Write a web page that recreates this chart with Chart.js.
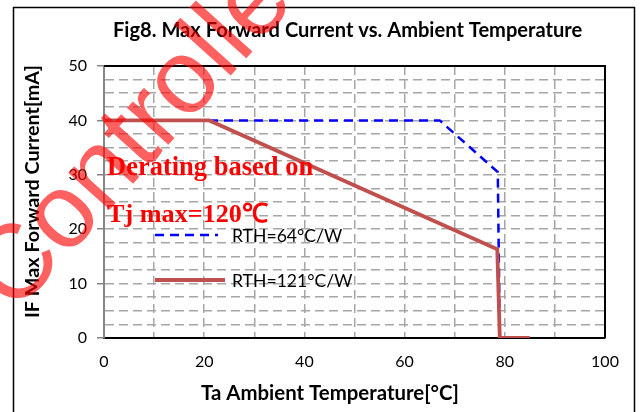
<!DOCTYPE html>
<html lang="en">
<head>
<meta charset="UTF-8">
<title>Fig8. Max Forward Current vs. Ambient Temperature</title>
<script src="https://cdn.jsdelivr.net/npm/chart.js"></script>
<style>
  html, body { margin: 0; padding: 0; background: #fff; }
  #wrap { width: 640px; height: 412px; }
</style>
</head>
<body>
<div id="wrap"><canvas id="myChart"></canvas></div>
<script>
// values
const tempRth64 = [0, 67, 78.6, 79, 85];
const currentRth64 = [40, 40, 30.5, 0, 0];
const tempRth121 = [0, 21, 78.5, 79, 85];
const currentRth121 = [40, 40, 16.3, 0, 0];
const seriesLabels = ['RTH=64°C/W', 'RTH=121°C/W'];
const xTickLabels = [0, 20, 40, 60, 80, 100];
const yTickLabels = [0, 10, 20, 30, 40, 50];
const chartTitle = 'Fig8. Max Forward Current vs. Ambient Temperature';
const xTitle = 'Ta Ambient Temperature[°C]';
const yTitle = 'IF Max Forward Current[mA]';
const notes = ['Derating based on', 'Tj max=120℃'];
const watermark = 'Controller';

const sansFamily = 'Lato, "Open Sans", sans-serif';
const serifFamily = '"Liberation Serif", "Times New Roman", serif';

function toPoints(xs, ys) {
    return xs.map((x, i) => ({ x: x, y: ys[i] }));
}

// pick a font size so the text spans the given width
function fitFont(ctx, text, weight, family, width) {
    ctx.font = weight + ' 100px ' + family;
    const size = 100 * width / ctx.measureText(text).width;
    return weight + ' ' + size.toFixed(1) + 'px ' + family;
}

const decor = {
    id: 'decor',
    beforeDraw(chart) {
        const ctx = chart.ctx;
        ctx.save();
        ctx.fillStyle = '#fff';
        ctx.fillRect(0, 0, chart.width, chart.height);
        ctx.strokeStyle = '#000';
        ctx.lineWidth = 1.5;
        ctx.strokeRect(13.5, 7.5, 621, 420);
        ctx.restore();
    },
    beforeDatasetsDraw(chart) {
        const { ctx, chartArea: a } = chart;
        ctx.save();
        ctx.strokeStyle = '#000';
        ctx.lineWidth = 2;
        ctx.beginPath();
        ctx.moveTo(a.left, a.top);
        ctx.lineTo(a.right, a.top);
        ctx.lineTo(a.right, a.bottom);
        ctx.stroke();
        ctx.restore();
    },
    afterDatasetsDraw(chart) {
        const ctx = chart.ctx;
        ctx.save();
        ctx.fillStyle = '#000';
        ctx.textBaseline = 'alphabetic';
        ctx.textAlign = 'left';

        ctx.font = fitFont(ctx, chartTitle, 'bold', sansFamily, 470);
        ctx.fillText(chartTitle, 113, 37);

        ctx.font = fitFont(ctx, xTitle, 'bold', sansFamily, 258);
        ctx.fillText(xTitle, 201, 400);

        ctx.save();
        ctx.translate(39, 318);
        ctx.rotate(-Math.PI / 2);
        ctx.font = fitFont(ctx, yTitle, 'bold', sansFamily, 253);
        ctx.fillText(yTitle, 0, 0);
        ctx.restore();

        // derating notes
        ctx.fillStyle = '#ff0000';
        ctx.font = fitFont(ctx, notes[0], 'bold', serifFamily, 206);
        ctx.fillText(notes[0], 107, 175);
        ctx.font = fitFont(ctx, notes[1], 'bold', serifFamily, 161);
        ctx.fillText(notes[1], 107, 222);

        // legend inside the plot
        const rows = [235, 280];
        const ends = [218, 225];
        const legendFont = fitFont(ctx, seriesLabels[0], 'normal', sansFamily, 110);
        chart.data.datasets.forEach((ds, i) => {
            ctx.save();
            ctx.strokeStyle = ds.borderColor;
            ctx.lineWidth = ds.borderWidth;
            ctx.setLineDash(ds.borderDash || []);
            ctx.beginPath();
            ctx.moveTo(155, rows[i]);
            ctx.lineTo(ends[i], rows[i]);
            ctx.stroke();
            ctx.restore();
            ctx.fillStyle = '#000';
            ctx.font = legendFont;
            ctx.textBaseline = 'middle';
            ctx.fillText(ds.label, 232, rows[i] + 1);
        });
        ctx.restore();
    },
    afterDraw(chart) {
        // watermark laid over the figure
        const ctx = chart.ctx;
        ctx.save();
        ctx.translate(15, 315);
        ctx.rotate(-48 * Math.PI / 180);
        ctx.font = '105px "Liberation Sans", Arial, sans-serif';
        ctx.fillStyle = 'rgba(255, 0, 0, 0.62)';
        ctx.textBaseline = 'alphabetic';
        ctx.fillText(watermark, 0, 0);
        ctx.restore();
    }
};

const ctx = document.getElementById('myChart').getContext('2d');
const chart = new Chart(ctx, {
    type: 'line',
    data: {
        datasets: [{
            label: seriesLabels[0],
            data: toPoints(tempRth64, currentRth64),
            borderColor: '#0000ff',
            borderWidth: 2.5,
            borderDash: [9, 6],
            pointRadius: 0,
            fill: false,
            order: 2
        },
        {
            label: seriesLabels[1],
            data: toPoints(tempRth121, currentRth121),
            borderColor: '#c0504d',
            borderWidth: 3.8,
            pointRadius: 0,
            fill: false,
            order: 1
        }]
    },
    options: {
        animation: false,
        responsive: true,
        maintainAspectRatio: false,
        layout: { padding: { top: 66, right: 35, left: 0, bottom: 0 } },
        plugins: {
            legend: { display: false },
            title: { display: false },
            tooltip: { enabled: false }
        },
        scales: {
            x: {
                type: 'linear',
                min: 0,
                max: 100,
                afterFit: (scale) => { scale.height = 74; },
                border: { display: true, color: '#000', width: 2, dash: [9, 5] },
                grid: {
                    color: '#a6a6a6',
                    lineWidth: 1.5,
                    tickLength: 6,
                    tickColor: 'transparent'
                },
                ticks: {
                    stepSize: 10,
                    autoSkip: false,
                    maxRotation: 0,
                    padding: 8,
                    color: '#000',
                    font: { family: sansFamily, size: 16 },
                    callback: (v) => xTickLabels.includes(v) ? v : ''
                }
            },
            y: {
                min: 0,
                max: 50,
                afterFit: (scale) => { scale.width = 104; },
                border: { display: true, color: '#868686', width: 2, dash: [9, 5] },
                grid: {
                    color: '#a6a6a6',
                    lineWidth: 1.5,
                    tickLength: 7,
                    tickColor: (c) => (c.tick && c.tick.value % 10 === 0) ? '#868686' : 'transparent'
                },
                ticks: {
                    stepSize: 2.5,
                    autoSkip: false,
                    padding: 10,
                    color: '#000',
                    font: { family: sansFamily, size: 16 },
                    callback: (v) => yTickLabels.includes(v) ? v : ''
                }
            }
        }
    },
    plugins: [decor]
});
</script>
</body>
</html>
